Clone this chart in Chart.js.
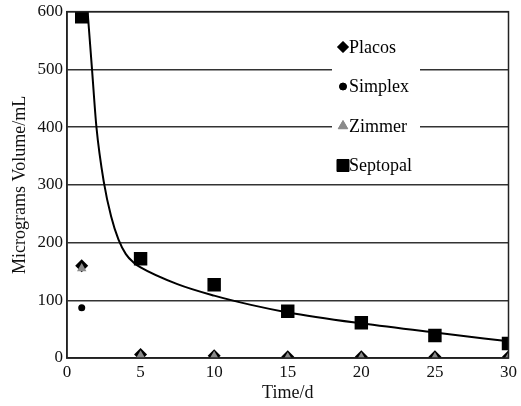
<!DOCTYPE html>
<html>
<head>
<meta charset="utf-8">
<script src="https://cdn.jsdelivr.net/npm/chart.js@4"></script>
<style>
  html, body { margin: 0; padding: 0; background: #fff; }
  #wrap { width: 521px; height: 406px; }
</style>
</head>
<body>
<div id="wrap"><canvas id="chart" width="521" height="406"></canvas></div>
<script>
// values
const days = [1, 5, 10, 15, 20, 25, 30];
const placos = [160, 6, 4, 2, 2, 2, 2];
const simplex = [87, 1, 1, 0, 0, 0, 0];
const zimmer = [155, 4, 3, 1, 1, 1, 1];
const septopal = [591, 172, 127, 81, 61, 39, 25];

// trend curve
const fitDays = [1.4, 1.7, 2, 2.5, 3, 3.5, 4, 4.5, 5, 7.5, 10, 12.5, 15, 20, 25, 30];
const fitValues = [600, 500, 400, 305, 245, 205, 180, 166, 157, 128, 108, 92, 79, 60, 44, 29];

const seriesNames = ['Placos', 'Simplex', 'Zimmer', 'Septopal'];
const yTicks = [0, 100, 200, 300, 400, 500, 600];
const xTicks = [0, 5, 10, 15, 20, 25, 30];

const serif = "'Liberation Serif', 'DejaVu Serif', serif";
const toPoints = (xs, ys) => xs.map((x, i) => ({ x: x, y: ys[i] }));

const styles = {
    Placos: { pointStyle: 'rectRot', radius: 6.5, color: '#000' },
    Simplex: { pointStyle: 'circle', radius: 3.5, color: '#000' },
    Zimmer: { pointStyle: 'triangle', radius: 5.5, color: '#8a8a8a' },
    Septopal: { pointStyle: 'rect', radius: 9.5, color: '#000' }
};

// legend box drawn inside the plot with a white background
const innerLegend = {
    id: 'innerLegend',
    afterDatasetsDraw(chart) {
        const ctx = chart.ctx;
        const area = chart.chartArea;
        const boxX = area.left + 265;
        ctx.save();
        ctx.fillStyle = '#fff';
        ctx.fillRect(boxX, 30, 88, 146);
        ctx.font = '18px ' + serif;
        ctx.textBaseline = 'middle';
        seriesNames.forEach((name, i) => {
            const st = styles[name];
            const y = 47 + i * 39.5;
            const r = name === 'Septopal' ? 8.5 : (name === 'Simplex' ? 3.5 : 5.5);
            ctx.fillStyle = st.color;
            ctx.strokeStyle = st.color;
            Chart.helpers.drawPoint(ctx, { pointStyle: st.pointStyle, radius: r, borderWidth: 1 }, boxX + 11, y);
            ctx.fill();
            ctx.fillStyle = '#000';
            ctx.fillText(name, boxX + 17, y + 1);
        });
        ctx.restore();
    },
    afterDraw(chart) {
        const ctx = chart.ctx;
        const a = chart.chartArea;
        ctx.save();
        ctx.strokeStyle = '#222';
        ctx.lineWidth = 1.5;
        ctx.strokeRect(a.left, a.top, a.right - a.left, a.bottom - a.top);
        ctx.restore();
    }
};

const scatterSet = (name, values, order) => ({
    type: 'scatter',
    label: name,
    data: toPoints(days, values),
    pointStyle: styles[name].pointStyle,
    pointRadius: styles[name].radius,
    pointHoverRadius: styles[name].radius,
    backgroundColor: styles[name].color,
    borderColor: styles[name].color,
    borderWidth: 0,
    order: order
});

new Chart(document.getElementById('chart'), {
    type: 'scatter',
    data: {
        datasets: [
            scatterSet('Zimmer', zimmer, 0),
            scatterSet('Septopal', septopal, 1),
            scatterSet('Placos', placos, 2),
            scatterSet('Simplex', simplex, 3),
            {
                type: 'line',
                label: 'fit',
                data: toPoints(fitDays, fitValues),
                borderColor: '#000',
                borderWidth: 2,
                pointRadius: 0,
                fill: false,
                cubicInterpolationMode: 'monotone',
                order: 4
            }
        ]
    },
    options: {
        responsive: false,
        animation: false,
        layout: { padding: { top: 0, right: 10, left: 0, bottom: 0 } },
        plugins: {
            legend: { display: false },
            tooltip: { enabled: false }
        },
        scales: {
            x: {
                type: 'linear',
                min: 0,
                max: 30,
                afterBuildTicks: s => { s.ticks = xTicks.map(v => ({ value: v })); },
                afterFit: s => { s.height = 48; },
                grid: { display: false, drawTicks: false },
                border: { display: true, color: '#222', width: 1.5 },
                ticks: { color: '#111', font: { family: serif, size: 17 }, padding: 4, maxRotation: 0 },
                title: { display: true, text: 'Time/d', color: '#111', font: { family: serif, size: 18 }, padding: { top: 0, bottom: 2 } }
            },
            y: {
                min: 0,
                max: 600,
                afterBuildTicks: s => { s.ticks = yTicks.map(v => ({ value: v })); },
                afterFit: s => { s.width = 67; },
                grid: { color: '#333', lineWidth: 1.5, drawTicks: false },
                border: { display: true, color: '#222', width: 1.5 },
                ticks: { color: '#111', font: { family: serif, size: 17, lineHeight: 0.9 }, padding: 4 },
                title: { display: true, text: 'Micrograms Volume/mL', color: '#111', font: { family: serif, size: 18 }, padding: { top: 9, bottom: 0 } }
            }
        }
    },
    plugins: [innerLegend]
});
</script>
</body>
</html>
